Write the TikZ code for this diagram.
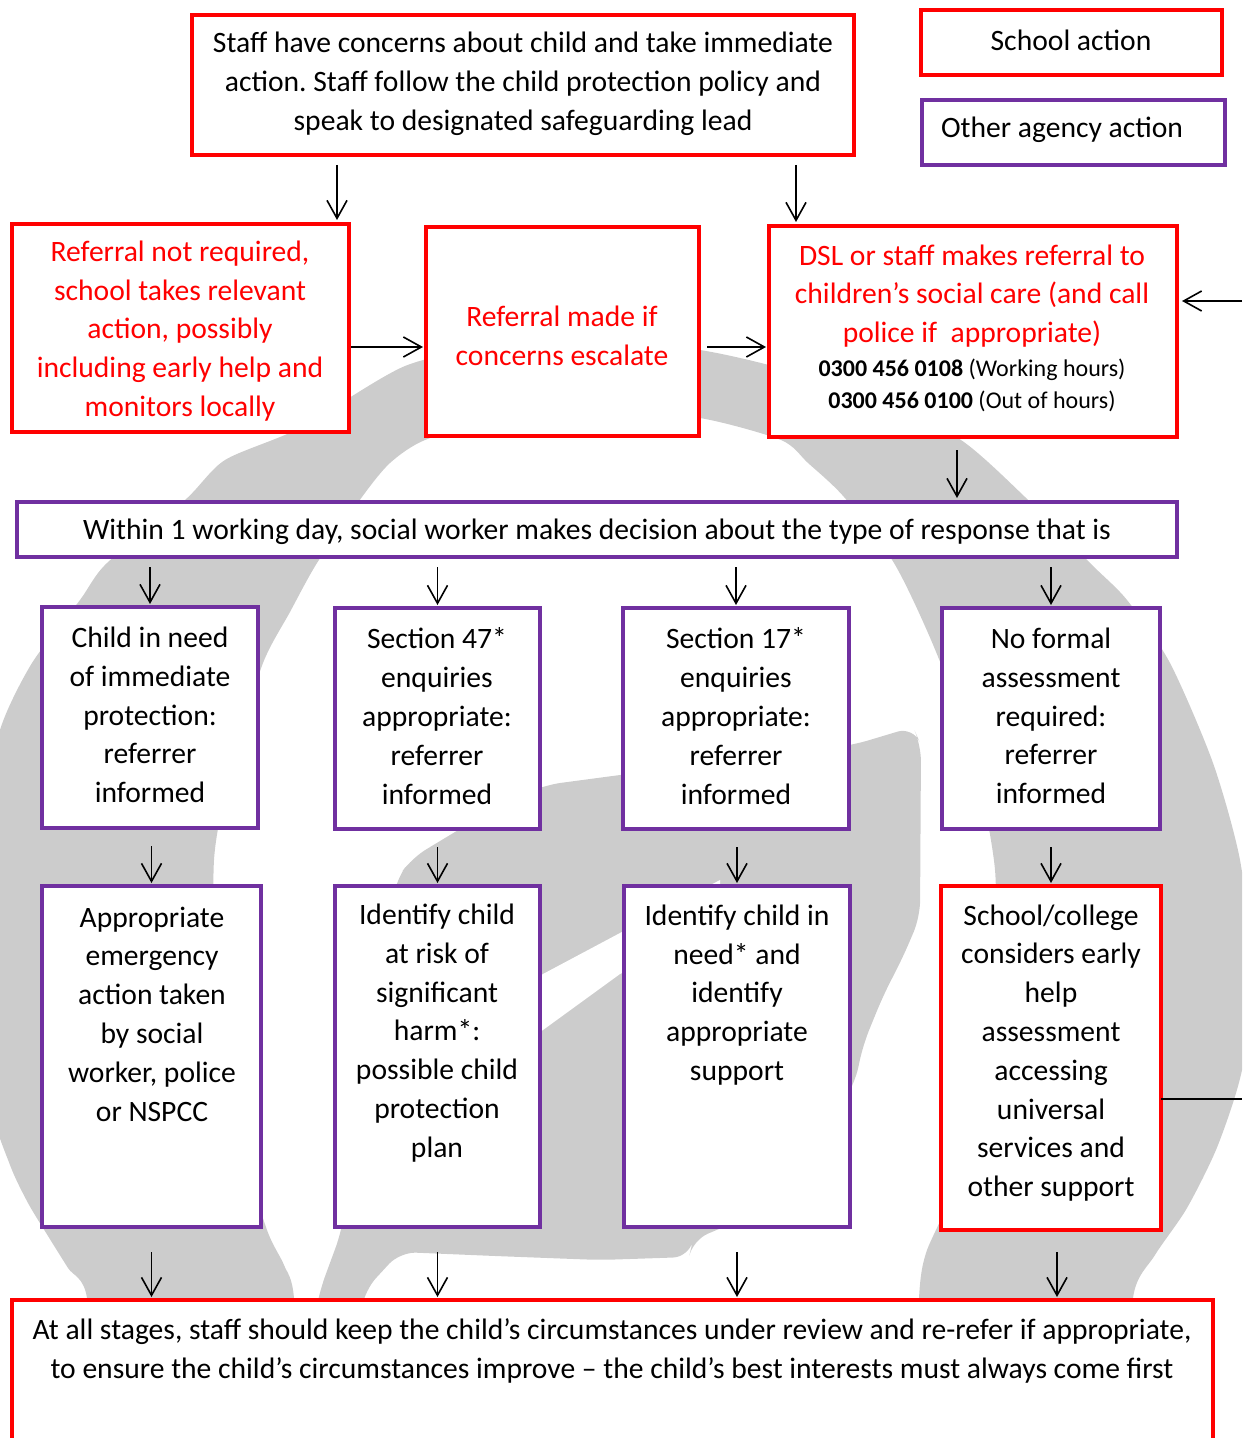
\documentclass[tikz,border=0pt]{standalone}
\usepackage{fontspec}
\setmainfont{Carlito}
\usetikzlibrary{arrows.meta,calc,fit}
\definecolor{wm}{RGB}{204,204,204}
\definecolor{purp}{RGB}{112,48,160}
\definecolor{rd}{RGB}{255,0,0}
\frenchspacing
\begin{document}
\begin{tikzpicture}[x=0.5pt,y=-0.5pt,
  box/.style={draw, line width=2pt, fill=white, inner sep=0pt, outer sep=0pt},
  rbox/.style={box, draw=rd},
  pbox/.style={box, draw=purp},
  txt/.style={align=center, inner sep=0pt, font=\fontsize{14.8}{19.4}\selectfont},
  rtxt/.style={txt, text=rd},
  small/.style={align=center, inner sep=0pt, font=\fontsize{12}{16}\selectfont},
  arr/.style={line width=0.8pt, -{Straight Barb[length=9pt,width=10pt]}},
  ln/.style={line width=0.8pt}]
\useasboundingbox (0,0) rectangle (1242,1438);
% ---- background watermark ----
\begin{scope}
\clip (0,0) rectangle (1242,1438);
\fill[wm] plot[smooth cycle, tension=0.45] coordinates {
 (95,1440) (87,1298) (68,1268) (48,1236) (28,1203) (10,1165) (-10,1100) (-22,950)
 (-15,820) (0,730) (32,663) (80,600) (107,563) (185,500) (225,460) (300,428) (405,366)
 (500,346) (600,340) (700,350) (780,368) (880,400) (961,440) (1025,497) (1090,563)
 (1127,600) (1170,663) (1213,763) (1240,860) (1250,960) (1243,1065) (1218,1145)
 (1187,1208) (1155,1255) (1133,1298) (1130,1440)
 (915,1440) (919,1298) (926,1253) (950,1197) (975,1100) (992,980) (995,870) (972,750)
 (934,647) (894,563) (844,497) (808,463) (781,440) (700,418) (600,410) (500,418)
 (425,440) (390,463) (362,497) (317,563) (290,612) (263,663) (233,760) (214,860)
 (218,1000) (240,1140) (267,1230) (284,1265) (294,1298) (300,1440)};
\fill[wm, rounded corners=8pt] (412,858) -- (445,838) -- (500,805) -- (545,785) -- (620,775)
 -- (700,765) -- (800,752) -- (853,745) -- (913,727) -- (921,745) -- (920,917) -- (903,957)
 -- (883,996) -- (863,1045) -- (855,1083) -- (800,1170) -- (740,1220) -- (693,1240)
 -- (689,1257) -- (600,1260) -- (495,1256) -- (400,1252) -- (365,1290) -- (358,1330)
 -- (312,1330) -- (320,1290) -- (341,1233) -- (370,1060) -- (396,880) -- cycle;
\fill[white] (460,1085) -- (543,1030) -- (620,974) -- (720,925) -- (720,880) -- (620,933)
 -- (543,974) -- (460,1030) -- cycle;
\end{scope}
% ---- boxes ----
\node[rbox, fit={(192,15)(854,155)}] (top) {};
\node[txt] (toptxt) at (523,84) {Staff have concerns about child and take immediate\\ action. Staff follow the child protection policy and\\ speak to designated safeguarding lead};
\node[rbox, fit={(921,10)(1222,75)}] (school) {};
\node[txt] (schooltxt) at (1071,40) {School action};
\node[pbox, fit={(922,100)(1225,165)}] (other) {};
\node[txt] (othertxt) at (1062,130) {Other agency action};

\node[rbox, fit={(12,224)(349,432)}] (refnr) {};
\node[rtxt] (refnrtxt) at (180,331) {Referral not required,\\ school takes relevant\\ action, possibly\\ including early help and\\ monitors locally};
\node[rbox, fit={(426,227)(699,436)}] (refmade) {};
\node[rtxt] (refmadetxt) at (562,336) {Referral made if\\ concerns escalate};
\node[rbox, fit={(769,226)(1177,437)}] (dsl) {};
\node[rtxt] (dsltxt) at (972,296) {DSL or staff makes referral to\\ children’s social care (and call\\ police if~ appropriate)};
\node[small] (dslphone) at (972,385) {\textbf{0300 456 0108} (Working hours)\\ \textbf{0300 456 0100} (Out of hours)};

\node[pbox, fit={(17,502)(1177,557)}] (bar) {};
\node[txt] (bartxt) at (597,532) {Within 1 working day, social worker makes decision about the type of response that is};

\node[pbox, fit={(42,607)(258,828)}] (A1) {};
\node[txt] (A1t) at (150,715) {Child in need\\ of immediate\\ protection:\\ referrer\\ informed};
\node[pbox, fit={(335,608)(540,829)}] (A2) {};
\node[txt] (A2t) at (437,716) {Section 47*\\ enquiries\\ appropriate:\\ referrer\\ informed};
\node[pbox, fit={(623,608)(849,829)}] (A3) {};
\node[txt] (A3t) at (736,716) {Section 17*\\ enquiries\\ appropriate:\\ referrer\\ informed};
\node[pbox, fit={(942,608)(1160,829)}] (A4) {};
\node[txt] (A4t) at (1051,716) {No formal\\ assessment\\ required:\\ referrer\\ informed};

\node[pbox, fit={(42,886)(261,1227)}] (B1) {};
\node[txt] (B1t) at (152,1014) {Appropriate\\ emergency\\ action taken\\ by social\\ worker, police\\ or NSPCC};
\node[pbox, fit={(335,886)(540,1227)}] (B2) {};
\node[txt] (B2t) at (437,1033) {Identify child\\ at risk of\\ significant\\ harm*:\\ possible child\\ protection\\ plan};
\node[pbox, fit={(624,886)(850,1227)}] (B3) {};
\node[txt] (B3t) at (737,995) {Identify child in\\ need* and\\ identify\\ appropriate\\ support};
\node[rbox, fit={(941,886)(1161,1230)}] (B4) {};
\node[txt] (B4t) at (1051,1053) {School/college\\ considers early\\ help\\ assessment\\ accessing\\ universal\\ services and\\ other support};

\node[rbox, fit={(12,1300)(1213,1470)}] (bottom) {};
\node[txt] (bottomtxt) at (612,1351) {At all stages, staff should keep the child’s circumstances under review and re-refer if appropriate,\\ to ensure the child’s circumstances improve – the child’s best interests must always come first};

% ---- connectors ----
\coordinate (c337) at (337,0);
\coordinate (c796) at (796,0);
\coordinate (c957) at (957,0);
\coordinate (y347) at (0,347);
\coordinate (einr) at (1242,301);
\coordinate (eout) at (1242,1099);

\draw[arr] ($(top.south -| c337)+(0,10)$) -- ($(refnr.north -| c337)+(0,-4)$);
\draw[arr] ($(top.south -| c796)+(0,10)$) -- ($(dsl.north -| c796)+(0,-4)$);
\draw[arr] ($(refnr.east |- y347)+(2,0)$) -- ($(refmade.west |- y347)+(-3,0)$);
\draw[arr] ($(refmade.east |- y347)+(8,0)$) -- ($(dsl.west |- y347)+(-3,0)$);
\draw[arr] (einr) -- ($(dsl.east |- einr)+(5,0)$);
\draw[arr] ($(dsl.south -| c957)+(0,13)$) -- ($(bar.north -| c957)+(0,-4)$);

\foreach \n in {A1,A2,A3,A4}
  \draw[arr] ($(bar.south -| \n.north)+(0,10)$) -- ($(\n.north)+(0,-3)$);
\foreach \a/\b in {A1/B1,A2/B2,A3/B3,A4/B4}
  \draw[arr] ($(\a.south -| \b.north)+(0,18)$) -- ($(\b.north)+(0,-3)$);
\foreach \n in {B1,B2,B3}
  \draw[arr] ($(\n.south)+(0,25)$) -- ($(bottom.north -| \n.south)+(0,-3)$);
\draw[arr] ($(B4.south)+(6,22)$) -- ($(bottom.north -| B4.south)+(6,-3)$);
\draw[ln] (B4.east |- eout) -- (eout);
\end{tikzpicture}
\end{document}
